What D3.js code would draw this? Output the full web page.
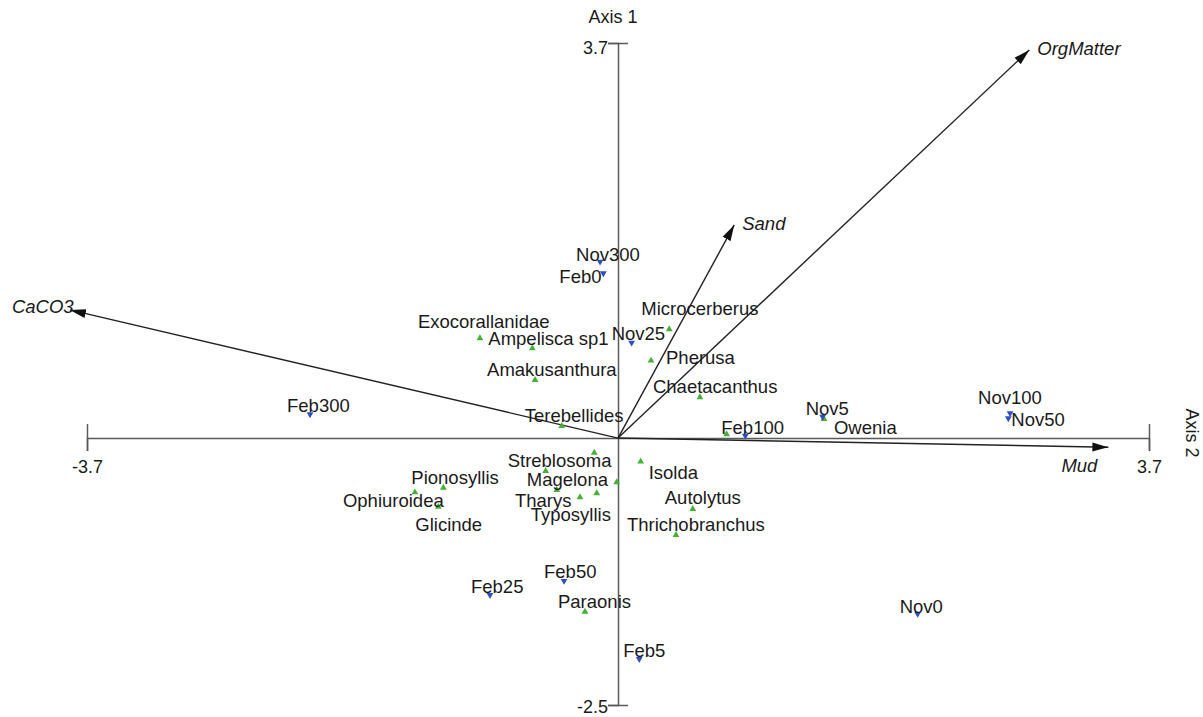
<!DOCTYPE html>
<html>
<head>
<meta charset="utf-8">
<script src="https://cdn.jsdelivr.net/npm/d3@7"></script>
<style>
  html, body { margin: 0; padding: 0; background: #fff; }
  svg { display: block; }
  text { font-family: "Liberation Sans", Arial, Helvetica, sans-serif; fill: #1a1a1a; }
</style>
</head>
<body>
<svg id="chart" width="1203" height="717"></svg>
<script>
// CCA biplot: samples (down triangles), species (up triangles), environmental vectors

// Samples: scores on axis 2 (horizontal) and axis 1 (vertical)
const sampleNames = ["Nov300", "Feb0", "Nov25", "Feb300", "Feb100", "Nov5", "Nov100", "Nov50", "Nov0", "Feb25", "Feb50", "Feb5"];
const sampleAxis2 = [-0.125, -0.102, 0.095, -2.146, 0.887, 1.426, 2.732, 2.720, 2.088, -0.892, -0.376, 0.148];
const sampleAxis1 = [1.652, 1.544, 0.894, 0.223, 0.022, 0.200, 0.232, 0.185, -1.647, -1.470, -1.338, -2.069];

// Species scores (empty name = unlabelled taxon)
const speciesNames = ["Exocorallanidae", "Ampelisca sp1", "Amakusanthura", "Terebellides", "Microcerberus", "Pherusa",
  "Chaetacanthus", "", "Owenia", "Streblosoma", "", "Magelona", "Pionosyllis", "Ophiuroidea", "Glicinde",
  "Tharys", "Typosyllis", "", "Isolda", "Autolytus", "Thrichobranchus", "Paraonis"];
const speciesAxis2 = [-0.962, -0.597, -0.578, -0.392, 0.357, 0.230, 0.571, 0.757, 1.435, -0.504, -0.165, -0.427,
  -1.217, -1.415, -1.252, -0.265, -0.148, -0.009, 0.158, 0.521, 0.404, -0.230];
const speciesAxis1 = [0.935, 0.841, 0.544, 0.113, 1.019, 0.725, 0.382, 0.036, 0.179, -0.308, -0.137, -0.486,
  -0.465, -0.508, -0.643, -0.554, -0.517, -0.414, -0.221, -0.664, -0.908, -1.626];

// Environmental variables (arrow tips)
const variableNames = ["CaCO3", "OrgMatter", "Sand", "Mud"];
const variableAxis2 = [-3.819, 2.866, 0.810, 3.417];
const variableAxis1 = [1.200, 3.635, 1.996, -0.086];

// Axis tick labels
const axis2Ticks = [-3.7, 3.7];
const axis1Ticks = [-2.5, 3.7];

// Label placement (pixel offsets of the text baseline start from the marker)
const labelOffset = {
  "Nov300": [-24, -1], "Feb0": [-44, 10], "Nov25": [-20, -3], "Feb300": [-23, -2], "Feb100": [-24, -2],
  "Nov5": [-17, -2], "Nov100": [-32, -9], "Nov50": [3, 8], "Nov0": [-18, -1], "Feb25": [-19, -2],
  "Feb50": [-20, -3], "Feb5": [-16, -2],
  "Exocorallanidae": [-62, -10], "Ampelisca sp1": [-44, -3], "Amakusanthura": [-48, -4], "Terebellides": [-37, -4],
  "Microcerberus": [-28, -14], "Pherusa": [15, 3], "Chaetacanthus": [-47, -4], "Owenia": [10, 15],
  "Streblosoma": [-38, -4], "Magelona": [-30, -4], "Pionosyllis": [-32, -4], "Ophiuroidea": [-72, 15],
  "Glicinde": [-23, 24], "Tharys": [-65, 10], "Typosyllis": [-66, 28], "Isolda": [8, 17],
  "Autolytus": [-28, -5], "Thrichobranchus": [-49, -4], "Paraonis": [-27, -4]
};
const variableLabelOffset = { "CaCO3": [-58, 3], "OrgMatter": [8, 5], "Sand": [8, 5], "Mud": [-47, 25] };

const svg = d3.select("#chart");
const x = d3.scaleLinear().domain([-3.7, 3.7]).range([87, 1149]);
const y = d3.scaleLinear().domain([-2.5, 3.7]).range([705, 43]);
const x0 = x(0), y0 = y(0);

const labelSize = "18.5px";
const axisColor = "#5a5a5a";

// Horizontal axis (Axis 2)
const xAxis = svg.append("g")
  .attr("transform", `translate(0,${y0})`)
  .call(d3.axisBottom(x).tickValues(axis2Ticks).tickSizeOuter(0).tickSize(13).tickFormat(d => String(d)));
xAxis.select(".domain").attr("stroke", axisColor).attr("stroke-width", 1.5);
xAxis.selectAll(".tick line").attr("stroke", axisColor).attr("stroke-width", 1.5).attr("y1", -14).attr("y2", 13);
xAxis.selectAll(".tick text").attr("y", 35).attr("dy", 0)
  .style("font-size", "18px").style("font-family", "'Liberation Sans', Arial, sans-serif").attr("fill", "#1a1a1a");

// Vertical axis (Axis 1)
const yAxis = svg.append("g")
  .attr("transform", `translate(${x0},0)`)
  .call(d3.axisLeft(y).tickValues(axis1Ticks).tickSizeOuter(0).tickSize(10).tickFormat(d => String(d)));
yAxis.select(".domain").attr("stroke", axisColor).attr("stroke-width", 1.5);
yAxis.selectAll(".tick line").attr("stroke", axisColor).attr("stroke-width", 1.5).attr("x1", -10).attr("x2", 10);
yAxis.selectAll(".tick text").attr("x", -10).attr("dy", 0).attr("y", d => d < 0 ? 7 : 10)
  .style("font-size", "18px").style("font-family", "'Liberation Sans', Arial, sans-serif").attr("fill", "#1a1a1a");

svg.append("text").attr("x", x0 - 5).attr("y", 23).attr("text-anchor", "middle")
  .style("font-size", "18px").text("Axis 1");
svg.append("text").attr("transform", `translate(1186,433) rotate(90)`).attr("text-anchor", "middle")
  .style("font-size", "18px").text("Axis 2");

// Arrowhead marker
svg.append("defs").append("marker")
  .attr("id", "head").attr("markerUnits", "userSpaceOnUse")
  .attr("viewBox", "0 -5 16 10").attr("refX", 16).attr("refY", 0)
  .attr("markerWidth", 16).attr("markerHeight", 10).attr("orient", "auto")
  .append("path").attr("d", "M0,-4.5L16,0L0,4.5Z").attr("fill", "#111");

// Environmental vectors
const vars = variableNames.map((n, i) => ({ name: n, a2: variableAxis2[i], a1: variableAxis1[i] }));
svg.append("g").selectAll("line").data(vars).join("line")
  .attr("x1", x0).attr("y1", y0)
  .attr("x2", d => x(d.a2)).attr("y2", d => y(d.a1))
  .attr("stroke", "#222").attr("stroke-width", 1.4)
  .attr("marker-end", "url(#head)");
svg.append("g").selectAll("text").data(vars).join("text")
  .attr("x", d => x(d.a2) + variableLabelOffset[d.name][0])
  .attr("y", d => y(d.a1) + variableLabelOffset[d.name][1])
  .style("font-size", labelSize).style("font-style", "italic")
  .text(d => d.name);

// Markers
const tri = d3.symbol().type(d3.symbolTriangle).size(20);
const spp = speciesNames.map((n, i) => ({ name: n, a2: speciesAxis2[i], a1: speciesAxis1[i] }));
const smp = sampleNames.map((n, i) => ({ name: n, a2: sampleAxis2[i], a1: sampleAxis1[i] }));

svg.append("g").selectAll("path").data(spp).join("path")
  .attr("d", tri)
  .attr("transform", d => `translate(${x(d.a2)},${y(d.a1)})`)
  .attr("fill", "#45b036");
svg.append("g").selectAll("path").data(smp).join("path")
  .attr("d", tri)
  .attr("transform", d => `translate(${x(d.a2)},${y(d.a1)}) rotate(180)`)
  .attr("fill", "#2f4fbf");

// Point labels
const labelled = spp.filter(d => d.name).concat(smp);
svg.append("g").selectAll("text").data(labelled).join("text")
  .attr("x", d => x(d.a2) + labelOffset[d.name][0])
  .attr("y", d => y(d.a1) + labelOffset[d.name][1])
  .style("font-size", labelSize)
  .text(d => d.name);
</script>
</body>
</html>
